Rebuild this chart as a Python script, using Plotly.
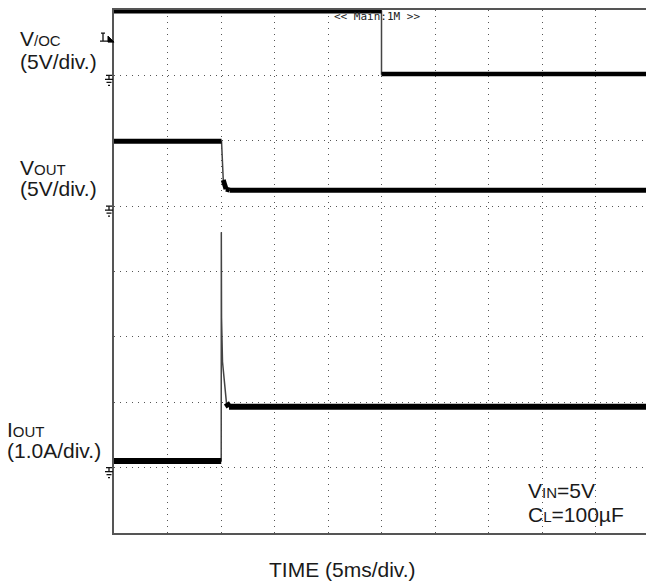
import plotly.graph_objects as go

# scope captures, time in ms (5 ms/div)
VOC_T = [0, 25.0, 25.0, 50]
VOC_V = [4.9, 4.9, 0.1, 0.1]

VOUT_T = [0, 10.05, 10.21, 10.47, 10.8, 50]
VOUT_V = [4.97, 4.97, 2.0, 1.3, 1.22, 1.22]

IOUT_T = [0, 10.02, 10.03, 10.05, 10.14, 10.35, 10.51, 10.75, 50]
IOUT_A = [0.1, 0.1, 3.6, 2.3, 1.62, 1.22, 0.99, 0.93, 0.93]

# channel setup: ground position on screen (div) and units per div
VOC_GND, VOC_SCALE = 7, 5.0
VOUT_GND, VOUT_SCALE = 5, 5.0
IOUT_GND, IOUT_SCALE = 1, 1.0

L, T, W, H = 114, 10, 532, 523


def px(x):
    return (x - L) / W


def py(y):
    return (T + H - y) / H


def to_div(vals, gnd, scale):
    return [gnd + v / scale for v in vals]


def flat_parts(t, y, max_slope=1.0):
    """Keep the slow segments only, these get the thick noisy look."""
    xs, ys = [], []
    for i in range(len(t) - 1):
        dt = t[i + 1] - t[i]
        if dt > 0 and abs(y[i + 1] - y[i]) / dt < max_slope:
            xs += [t[i], t[i + 1], None]
            ys += [y[i], y[i + 1], None]
    return xs, ys


fig = go.Figure()

for t, vals, gnd, sc, w in [
    (VOC_T, VOC_V, VOC_GND, VOC_SCALE, 4.5),
    (VOUT_T, VOUT_V, VOUT_GND, VOUT_SCALE, 5),
    (IOUT_T, IOUT_A, IOUT_GND, IOUT_SCALE, 6),
]:
    y = to_div(vals, gnd, sc)
    fig.add_trace(
        go.Scatter(x=t, y=y, mode="lines", line=dict(color="#444", width=1.5),
                   hoverinfo="skip")
    )
    fx, fy = flat_parts(t, y)
    fig.add_trace(
        go.Scatter(x=fx, y=fy, mode="lines", line=dict(color="#000", width=w),
                   hoverinfo="skip")
    )

fig.update_xaxes(
    range=[0, 49.72], dtick=5, showticklabels=False, ticks="",
    showgrid=True, gridcolor="#555", gridwidth=1, griddash="1px,5px",
    zeroline=False, showline=True, linecolor="#555", linewidth=2, mirror=True,
)
fig.update_yaxes(
    range=[0, 8], dtick=1, showticklabels=False, ticks="",
    showgrid=True, gridcolor="#555", gridwidth=1, griddash="1px,5px",
    zeroline=False, showline=True, linecolor="#555", linewidth=2,
)

# ground markers at the left edge
shapes = []
for g in [VOC_GND, VOUT_GND, IOUT_GND]:
    for x0, y0, x1, y1 in [(-8, 0, -2, 0), (-5, 0, -5, -4), (-9, -4, -1, -4),
                           (-7.5, -7, -2.5, -7), (-6, -10, -4, -10)]:
        shapes.append(dict(type="line", xref="paper", xsizemode="pixel", xanchor=0,
                           x0=x0, x1=x1, yref="y", ysizemode="pixel", yanchor=g,
                           y0=y0, y1=y1, line=dict(color="#111", width=1.3)))
# trigger mark
trig = 7.57
shapes.append(dict(type="path", xref="paper", xsizemode="pixel", xanchor=0,
                   yref="y", ysizemode="pixel", yanchor=trig,
                   path="M -13 5 L -9 5 M -11 5 L -11 -3 M -14 -3 L -6 -3",
                   line=dict(color="#111", width=1.3)))
shapes.append(dict(type="path", xref="paper", xsizemode="pixel", xanchor=0,
                   yref="y", ysizemode="pixel", yanchor=trig,
                   path="M -6 2 L -6 -4 L 0 -4 Z", fillcolor="#000",
                   line=dict(color="#000", width=1)))

FONT = "Liberation Sans, Arial, sans-serif"
SM = "<span style='font-size:15px'>{}</span>"


def label(text, x, y, size=21, anchor="left"):
    return dict(text=text, x=px(x), y=py(y), xref="paper", yref="paper",
                xanchor=anchor, yanchor="middle", showarrow=False,
                font=dict(family=FONT, size=size, color="#1a1a1a"))


annotations = [
    label("V" + SM.format("/OC"), 18, 39),
    label("(5V/div.)", 18, 61),
    label("V" + SM.format("OUT"), 18, 167),
    label("(5V/div.)", 18, 189),
    label("I" + SM.format("OUT"), 5, 429),
    label("(1.0A/div.)", 5, 450),
    label("V" + SM.format("IN") + "=5V", 526, 490),
    label("C" + SM.format("L") + "=100µF", 526, 514),
    label("TIME (5ms/div.)", 342, 569, anchor="center"),
    dict(text="&lt;&lt; Main:1M &gt;&gt;", x=px(377), y=py(16), xref="paper",
         yref="paper", xanchor="center", yanchor="middle", showarrow=False,
         font=dict(family="DejaVu Sans Mono, monospace", size=11, color="#222")),
]

fig.update_layout(
    width=646, height=586,
    margin=dict(l=L, r=646 - L - W, t=T, b=586 - T - H),
    paper_bgcolor="white", plot_bgcolor="white",
    showlegend=False,
    shapes=shapes, annotations=annotations,
)

fig.write_html(
    "out.html",
    config={"displayModeBar": False},
    post_script="document.body.style.margin='0';document.body.style.overflow='hidden';",
)
